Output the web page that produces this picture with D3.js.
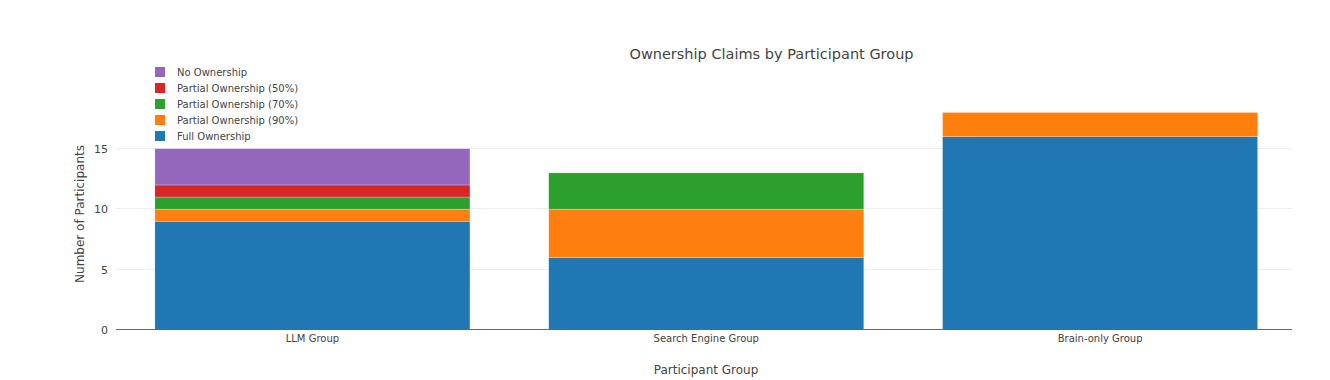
<!DOCTYPE html>
<html>
<head>
<meta charset="utf-8">
<script src="https://cdn.jsdelivr.net/npm/d3@7"></script>
<style>
  body { margin: 0; background: #fff; }
  text { font-family: "DejaVu Sans", Verdana, sans-serif; fill: #444; }
</style>
</head>
<body>
<div class="vizcontainer"></div>
<script>
const groups = ["LLM Group", "Search Engine Group", "Brain-only Group"];
const seriesNames = ["Full Ownership", "Partial Ownership (90%)", "Partial Ownership (70%)", "Partial Ownership (50%)", "No Ownership"];
const fullOwnership = [9, 6, 16];
const partial90 = [1, 4, 2];
const partial70 = [1, 3, 0];
const partial50 = [1, 0, 0];
const noOwnership = [3, 0, 0];
const seriesColors = ["#1f77b4", "#ff7f0e", "#2ca02c", "#d62728", "#9467bd"];
const yTicks = [0, 5, 10, 15];

const width = 1330, height = 380;
const plot = { left: 116, right: 1292, top: 101, bottom: 330 };

const rows = groups.map((g, i) => ({
  group: g,
  "Full Ownership": fullOwnership[i],
  "Partial Ownership (90%)": partial90[i],
  "Partial Ownership (70%)": partial70[i],
  "Partial Ownership (50%)": partial50[i],
  "No Ownership": noOwnership[i]
}));

const stacked = d3.stack().keys(seriesNames)(rows);

const color = d3.scaleOrdinal().domain(seriesNames).range(seriesColors);

const x = d3.scaleBand()
  .domain(groups)
  .range([plot.left - 0.5, plot.right + 5])
  .paddingInner(0.2)
  .paddingOuter(0.1);

const yMax = d3.max(rows, r => d3.sum(seriesNames, k => r[k])) * 1.0526;
const y = d3.scaleLinear().domain([0, yMax]).range([plot.bottom, plot.top]);

const svg = d3.select(".vizcontainer").append("svg")
  .attr("width", width)
  .attr("height", height);

// gridlines
svg.append("g")
  .selectAll("line")
  .data(yTicks.filter(t => t > 0))
  .enter()
  .append("line")
  .attr("x1", plot.left)
  .attr("x2", plot.right)
  .attr("y1", d => Math.round(y(d)) - 0.5)
  .attr("y2", d => Math.round(y(d)) - 0.5)
  .style("stroke", "#eee")
  .style("stroke-width", 1);

// bars
svg.append("g")
  .selectAll("g")
  .data(stacked)
  .enter()
  .append("g")
  .style("fill", d => color(d.key))
  .selectAll("rect")
  .data(d => d.filter(s => s[1] > s[0]))
  .enter()
  .append("rect")
  .attr("x", d => x(d.data.group))
  .attr("width", x.bandwidth())
  .attr("y", d => y(d[1]))
  .attr("height", d => y(d[0]) - y(d[1]))
  .style("stroke", "#fff")
  .style("stroke-width", 0.5)
  .style("stroke-opacity", 0.5);

// zero line
svg.append("line")
  .attr("x1", plot.left)
  .attr("x2", plot.right)
  .attr("y1", plot.bottom - 0.5)
  .attr("y2", plot.bottom - 0.5)
  .style("stroke", "#666")
  .style("stroke-width", 1);

// y axis
var yAxis = d3.axisLeft(y).tickValues(yTicks).tickSize(0).tickPadding(8);
var yG = svg.append("g")
  .attr("transform", "translate(" + plot.left + ",0)")
  .call(yAxis);
yG.select(".domain").remove();
yG.selectAll(".tick text").style("font-size", "11px").style("fill", "#444")
  .style("font-family", "DejaVu Sans, Verdana, sans-serif");

// x axis
var xAxis = d3.axisBottom(x).tickSize(0).tickPadding(5);
var xG = svg.append("g")
  .attr("transform", "translate(0," + plot.bottom + ")")
  .call(xAxis);
xG.select(".domain").remove();
xG.selectAll(".tick text").style("font-size", "10px").style("fill", "#444")
  .style("font-family", "DejaVu Sans, Verdana, sans-serif");

// titles
svg.append("text")
  .attr("x", 771.5)
  .attr("y", 59)
  .attr("text-anchor", "middle")
  .style("font-size", "14.5px")
  .text("Ownership Claims by Participant Group");

svg.append("text")
  .attr("x", 706)
  .attr("y", 374)
  .attr("text-anchor", "middle")
  .style("font-size", "12px")
  .text("Participant Group");

svg.append("text")
  .attr("transform", "rotate(-90)")
  .attr("x", -214)
  .attr("y", 84)
  .attr("text-anchor", "middle")
  .style("font-size", "12px")
  .text("Number of Participants");

// legend, top to bottom reversed like the stack
var legendItems = seriesNames.slice().reverse();
var legend = svg.append("g").attr("id", "legend");
legend.selectAll("rect")
  .data(legendItems)
  .enter()
  .append("rect")
  .attr("x", 155)
  .attr("y", (d, i) => 67 + 16 * i)
  .attr("width", 10)
  .attr("height", 10)
  .style("fill", d => color(d));
legend.selectAll("text")
  .data(legendItems)
  .enter()
  .append("text")
  .attr("x", 177)
  .attr("y", (d, i) => 76 + 16 * i)
  .style("font-size", "10px")
  .text(d => d);
</script>
</body>
</html>
